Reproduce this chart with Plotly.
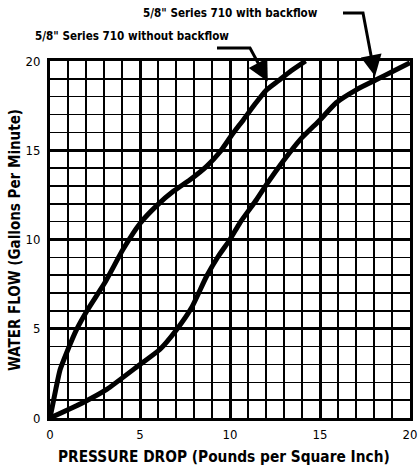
import plotly.graph_objects as go

# Data
without_x = [0, 0.3, 0.56, 0.93, 1.48, 2.04, 3.06, 4.06, 5.0, 5.93, 6.85, 7.78, 8.7, 9.44, 10.1, 10.74, 11.4, 12.0, 12.7, 13.4, 14.2]
without_y = [0, 1.5, 2.7, 3.67, 4.96, 5.98, 7.6, 9.45, 10.9, 11.9, 12.7, 13.35, 14.1, 14.9, 15.85, 16.7, 17.6, 18.35, 18.9, 19.45, 20.0]

with_x = [0, 1.85, 3.15, 5.0, 6.1, 7.04, 7.87, 8.7, 9.35, 10.0, 10.56, 11.48, 12.04, 12.96, 13.9, 15.0, 15.9, 17.04, 18.15, 19.06, 20.0]
with_y = [0, 0.87, 1.6, 3.0, 3.84, 4.96, 6.19, 7.94, 9.06, 10.0, 10.95, 12.24, 13.1, 14.4, 15.6, 16.7, 17.66, 18.4, 18.96, 19.43, 19.9]

x_ticks = [0, 5, 10, 15, 20]
y_ticks = [0, 5, 10, 15, 20]

FONT = "DejaVu Sans Condensed, Liberation Sans Narrow, sans-serif"

fig = go.Figure()
for xs, ys in [(without_x, without_y), (with_x, with_y)]:
    fig.add_trace(go.Scatter(x=xs, y=ys, mode="lines",
                             line=dict(color="black", width=5, shape="spline", smoothing=0.5),
                             hoverinfo="skip", cliponaxis=False))

W, H = 419, 471
ml, mr, mt, mb = 50, 9, 61, 53

fig.update_layout(
    width=W, height=H,
    margin=dict(l=ml, r=mr, t=mt, b=mb, autoexpand=False),
    paper_bgcolor="white", plot_bgcolor="white",
    showlegend=False,
    font=dict(family=FONT, color="black"),
)

common = dict(
    range=[0, 20],
    showgrid=True, gridcolor="black", gridwidth=3,
    minor=dict(dtick=1, showgrid=True, gridcolor="black", gridwidth=1.5, tick0=0),
    showline=True, linecolor="black", linewidth=3, mirror=True,
    zeroline=False, ticks="", automargin=False,
    tickfont=dict(size=13, family=FONT, color="black"),
    fixedrange=True,
)
fig.update_xaxes(tickvals=x_ticks, ticktext=[str(v) for v in x_ticks],
                 ticklabelstandoff=2, **common)
fig.update_yaxes(tickvals=y_ticks, ticktext=[str(v) for v in y_ticks],
                 ticklabelstandoff=4, **common)

pw = W - ml - mr
ph = H - mt - mb

def px2paper(px, py):
    return (px - ml) / pw, (H - mb - py) / ph

# Axis titles
x, y = px2paper(224, 457)
fig.add_annotation(x=x, y=y, xref="paper", yref="paper",
                   text="<b>PRESSURE DROP (Pounds per Square Inch)</b>", showarrow=False,
                   font=dict(size=15.3, family=FONT, color="black"),
                   xanchor="center", yanchor="middle")
x, y = px2paper(15, 240)
fig.add_annotation(x=x, y=y, xref="paper", yref="paper",
                   text="<b>WATER FLOW (Gallons Per Minute)</b>", showarrow=False, textangle=-90,
                   font=dict(size=15, family=FONT, color="black"),
                   xanchor="center", yanchor="middle")

# Label texts
for text, cx, cy in [("5/8\" Series 710 with backflow", 230, 13),
                     ("5/8\" Series 710 without backflow", 132, 36)]:
    x, y = px2paper(cx, cy)
    fig.add_annotation(x=x, y=y, xref="paper", yref="paper", text="<b>" + text + "</b>",
                       showarrow=False, font=dict(size=11.6, family=FONT, color="black"),
                       xanchor="center", yanchor="middle")

# Leader lines (horizontal + diagonal) ending near arrow tips
leaders = [[(343, 13), (363, 13), (373, 66)],
           [(217, 48), (250, 48), (263.5, 73)]]
for pts in leaders:
    path = ""
    for i, (px, py) in enumerate(pts):
        xp, yp = px2paper(px, py)
        path += ("M" if i == 0 else "L") + f"{xp:.5f},{yp:.5f} "
    fig.add_shape(type="path", xref="paper", yref="paper", path=path.strip(),
                  line=dict(color="black", width=3))

# Arrowheads (tip in data coords, short tail offset in pixels along the leader)
for tipx, tipy, ax, ay in [(18.06, 19.15, -4.5, -24), (12.1, 18.85, -9, -17)]:
    fig.add_annotation(x=tipx, y=tipy, xref="x", yref="y", ax=ax, ay=ay, text=" ",
                       font=dict(size=4),
                       showarrow=True, arrowhead=2, arrowsize=1.4, arrowwidth=3,
                       arrowcolor="black", standoff=0, startstandoff=0)

fig.write_html("out.html", config={"displayModeBar": False, "staticPlot": True},
               post_script="document.body.style.margin='0';")
